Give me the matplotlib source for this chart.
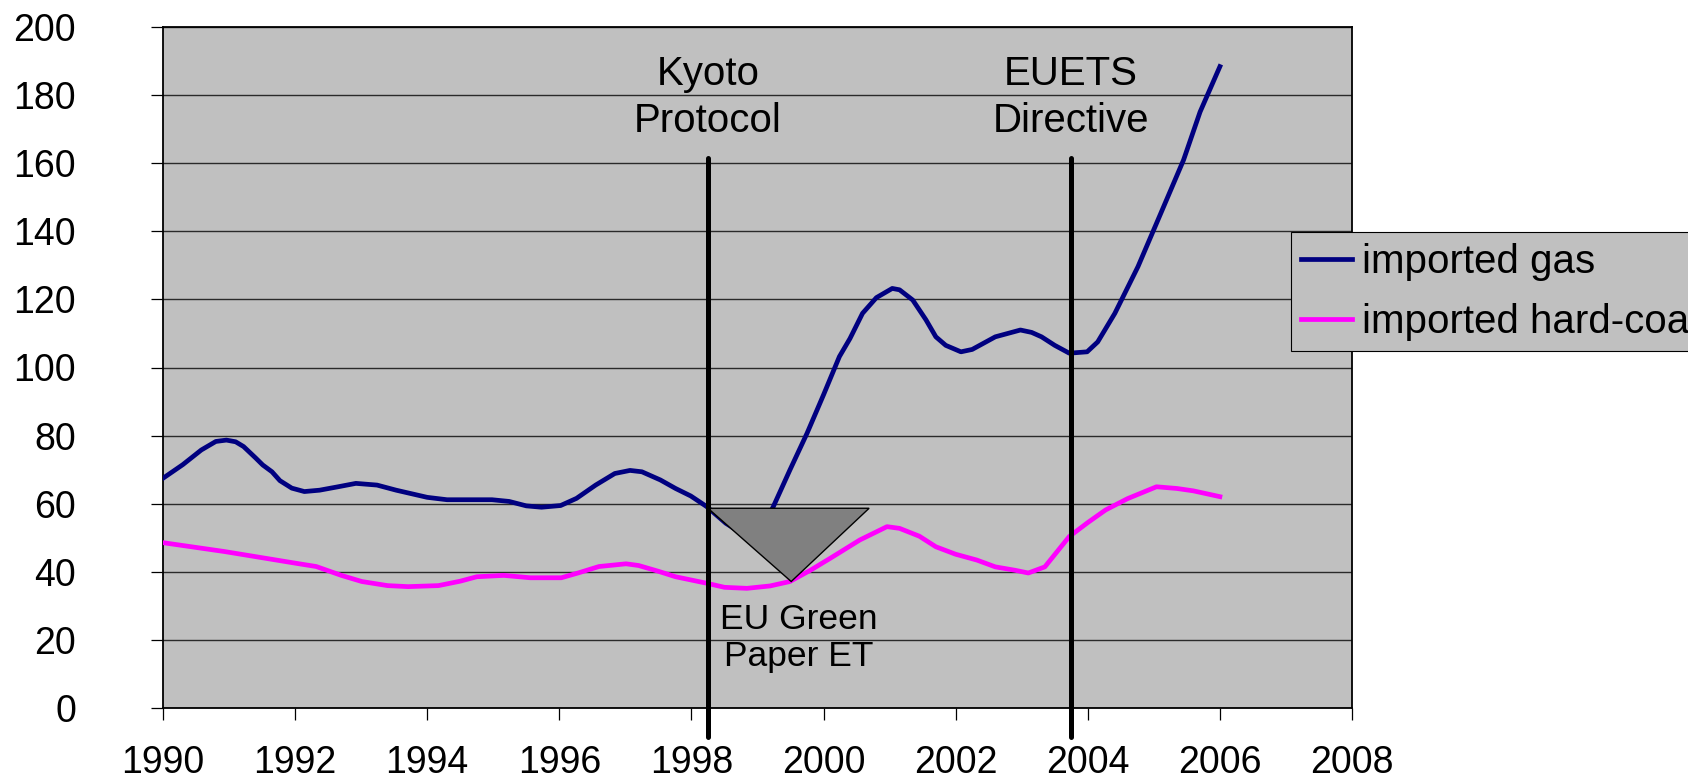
import matplotlib.pyplot as plt
from matplotlib.patches import Polygon

plt.rcParams['font.family'] = ['Liberation Sans', 'DejaVu Sans']

# imported gas (year, value)
gas_years = [1990.0, 1990.3, 1990.58, 1990.8, 1990.96, 1991.1, 1991.22, 1991.4, 1991.51,
             1991.65, 1991.77, 1991.95, 1992.14, 1992.37, 1992.65, 1992.92, 1993.24,
             1993.53, 1994.0, 1994.3, 1994.98, 1995.24, 1995.5, 1995.73, 1996.02, 1996.26,
             1996.55, 1996.84, 1997.07, 1997.25, 1997.53, 1997.76, 1997.99, 1998.23,
             1998.52, 1998.75, 1998.95, 1999.1, 1999.24, 1999.49, 1999.75, 2000.0, 2000.24,
             2000.4, 2000.59, 2000.8, 2001.04, 2001.15, 2001.35, 2001.55, 2001.7, 2001.85,
             2002.08, 2002.25, 2002.6, 2002.98, 2003.15, 2003.3, 2003.5, 2003.72, 2003.99,
             2004.15, 2004.41, 2004.76, 2005.1, 2005.45, 2005.7, 2006.0]
gas_values = [67.5, 71.5, 75.8, 78.3, 78.7, 78.2, 76.8, 73.5, 71.4,
              69.4, 66.8, 64.6, 63.6, 64.0, 65.0, 66.0, 65.5,
              64.0, 61.9, 61.2, 61.2, 60.7, 59.4, 59.0, 59.5, 61.6,
              65.5, 68.9, 69.8, 69.4, 67.0, 64.5, 62.3, 59.2,
              54.3, 51.5, 51.0, 54.0, 59.2, 69.9, 80.7, 92.0, 103.2,
              108.5, 115.9, 120.5, 123.2, 122.8, 119.8, 114.0, 109.0, 106.5,
              104.6, 105.3, 109.0, 111.0, 110.3, 109.0, 106.5, 104.2, 104.6,
              107.5, 115.9, 129.6, 145.0, 160.9, 175.0, 188.3]

# imported hard-coal
coal_years = [1990.0, 1990.93, 1992.03, 1992.32, 1992.7, 1993.01, 1993.4, 1993.71, 1994.17,
              1994.5, 1994.75, 1995.16, 1995.56, 1996.03, 1996.3, 1996.6, 1997.01, 1997.2,
              1997.5, 1997.76, 1998.23, 1998.5, 1998.84, 1999.19, 1999.49, 1999.8, 2000.1,
              2000.55, 2000.96, 2001.15, 2001.45, 2001.7, 2002.0, 2002.32, 2002.6, 2002.9,
              2003.1, 2003.35, 2003.72, 2004.0, 2004.27, 2004.6, 2005.04, 2005.35, 2005.6,
              2006.0]
coal_values = [48.6, 46.0, 42.5, 41.6, 39.0, 37.2, 36.0, 35.7, 36.0,
               37.3, 38.6, 39.0, 38.3, 38.3, 39.8, 41.6, 42.4, 41.9,
               40.2, 38.6, 36.7, 35.5, 35.2, 35.9, 37.2, 40.5, 44.0,
               49.4, 53.3, 52.8, 50.5, 47.4, 45.2, 43.5, 41.5, 40.5,
               39.7, 41.5, 50.4, 54.5, 58.2, 61.5, 65.0, 64.5, 63.8,
               62.1]

event_years = [1998.25, 2003.74]
event_labels = ['Kyoto\nProtocol', 'EUETS\nDirective']
green_paper = (1999.63, 20.6)
triangle = [(1998.25, 58.7), (2000.69, 58.7), (1999.51, 37.2)]

fig = plt.figure(figsize=(16.88, 7.77), dpi=100)
ax = fig.add_axes([163 / 1688, 1 - 708.3 / 777, (1352 - 163) / 1688, (708.3 - 26.7) / 777])
ax.set_facecolor('#C0C0C0')

ax.plot(gas_years, gas_values, color='#000080', lw=3.4, label='imported gas', zorder=3)
ax.plot(coal_years, coal_values, color='#FF00FF', lw=3.4, label='imported hard-coal', zorder=3)

ax.add_patch(Polygon(triangle, closed=True, facecolor='#808080', edgecolor='black',
                     lw=1, zorder=4))

for yr, lab in zip(event_years, event_labels):
    ax.plot([yr, yr], [161.5, -8.4], color='black', lw=3.6, solid_capstyle='round',
            clip_on=False, zorder=5)
    ax.text(yr, 179.2, lab, ha='center', va='center', fontsize=29, linespacing=1.3)

ax.text(green_paper[0], green_paper[1], 'EU Green\nPaper ET', ha='center', va='center',
        fontsize=25.5, linespacing=1.15, zorder=6)

ax.set_xlim(1990, 2008)
ax.set_ylim(0, 200)
ax.set_xticks(range(1990, 2009, 2))
ax.set_yticks(range(0, 201, 20))
ax.yaxis.grid(True, color='#2a2a2a', lw=1.0)
ax.set_axisbelow(True)
ax.tick_params(axis='both', labelsize=27, length=8.6, width=0.9, color='black')
ax.tick_params(axis='y', pad=54)
ax.tick_params(axis='x', pad=18)
for s in ax.spines.values():
    s.set_color('black')
    s.set_linewidth(1.3)

ax.legend(loc='upper left', bbox_to_anchor=(1290.7 / 1688, 1 - 232.3 / 777),
          bbox_transform=fig.transFigure, borderaxespad=0, fontsize=29,
          fancybox=False, facecolor='#C0C0C0', edgecolor='black', framealpha=1,
          handlelength=1.25, handletextpad=0.25, borderpad=0.26, labelspacing=0.55)
ax.get_legend().get_frame().set_linewidth(0.8)

plt.savefig('out.png', dpi=100)
